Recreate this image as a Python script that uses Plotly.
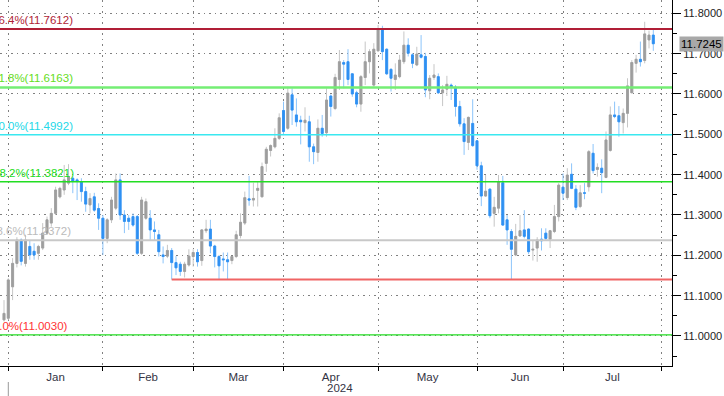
import plotly.graph_objects as go

# ---- data (trading-day index, OHLC) ----
day_index = list(range(152))
opens = [11.040, 11.044, 11.122, 11.180, 11.238, 11.180, 11.222, 11.210, 11.205, 11.218,
         11.255, 11.280, 11.304, 11.345, 11.362, 11.379, 11.391, 11.387, 11.383, 11.358,
         11.325, 11.345, 11.316, 11.292, 11.242, 11.288, 11.317, 11.387, 11.300, 11.292,
         11.296, 11.296, 11.205, 11.292, 11.292, 11.263, 11.251, 11.201, 11.198, 11.212,
         11.182, 11.178, 11.160, 11.176, 11.197, 11.207, 11.187, 11.261, 11.265, 11.223,
         11.197, 11.191, 11.189, 11.187, 11.197, 11.249, 11.280, 11.340, 11.337, 11.361,
         11.345, 11.428, 11.460, 11.469, 11.490, 11.559, 11.515, 11.598, 11.548, 11.535,
         11.529, 11.531, 11.469, 11.455, 11.515, 11.504, 11.595, 11.564, 11.636, 11.678,
         11.680, 11.650, 11.603, 11.575, 11.641, 11.680, 11.622, 11.707, 11.760, 11.711,
         11.661, 11.636, 11.643, 11.680, 11.721, 11.697, 11.672, 11.697, 11.693, 11.608,
         11.641, 11.643, 11.603, 11.612, 11.622, 11.617, 11.569, 11.526, 11.480, 11.527,
         11.484, 11.422, 11.347, 11.364, 11.304, 11.317, 11.380, 11.288, 11.259, 11.201,
         11.248, 11.263, 11.265, 11.213, 11.218, 11.240, 11.255, 11.240, 11.259, 11.296,
         11.369, 11.343, 11.401, 11.364, 11.321, 11.355, 11.370, 11.453, 11.413, 11.416,
         11.393, 11.460, 11.548, 11.546, 11.529, 11.552, 11.603, 11.676, 11.686, 11.683,
         11.734, 11.746]
highs = [11.089, 11.143, 11.193, 11.245, 11.242, 11.251, 11.238, 11.230, 11.226, 11.280,
         11.296, 11.317, 11.370, 11.370, 11.424, 11.426, 11.395, 11.391, 11.391, 11.370,
         11.354, 11.355, 11.329, 11.300, 11.292, 11.345, 11.403, 11.403, 11.312, 11.300,
         11.304, 11.300, 11.345, 11.341, 11.312, 11.284, 11.263, 11.222, 11.226, 11.218,
         11.198, 11.184, 11.184, 11.215, 11.215, 11.215, 11.265, 11.288, 11.288, 11.226,
         11.201, 11.207, 11.207, 11.198, 11.261, 11.304, 11.358, 11.397, 11.380, 11.384,
         11.430, 11.469, 11.475, 11.515, 11.552, 11.581, 11.618, 11.614, 11.589, 11.546,
         11.567, 11.546, 11.477, 11.537, 11.548, 11.614, 11.599, 11.650, 11.709, 11.684,
         11.711, 11.651, 11.608, 11.647, 11.730, 11.711, 11.726, 11.771, 11.769, 11.713,
         11.664, 11.676, 11.697, 11.755, 11.738, 11.701, 11.717, 11.746, 11.702, 11.647,
         11.674, 11.651, 11.622, 11.645, 11.626, 11.622, 11.583, 11.540, 11.544, 11.587,
         11.486, 11.432, 11.399, 11.366, 11.345, 11.399, 11.397, 11.300, 11.265, 11.278,
         11.300, 11.312, 11.267, 11.238, 11.245, 11.267, 11.267, 11.263, 11.325, 11.379,
         11.403, 11.416, 11.428, 11.374, 11.374, 11.379, 11.461, 11.476, 11.428, 11.438,
         11.507, 11.569, 11.581, 11.570, 11.564, 11.639, 11.684, 11.697, 11.730, 11.779,
         11.757, 11.759]
lows = [11.036, 11.040, 11.089, 11.170, 11.175, 11.172, 11.189, 11.189, 11.189, 11.213,
        11.251, 11.271, 11.300, 11.341, 11.350, 11.374, 11.354, 11.337, 11.333, 11.308,
        11.304, 11.308, 11.263, 11.201, 11.230, 11.280, 11.312, 11.288, 11.255, 11.263,
        11.271, 11.201, 11.201, 11.288, 11.238, 11.238, 11.197, 11.180, 11.193, 11.140,
        11.151, 11.149, 11.145, 11.172, 11.172, 11.172, 11.174, 11.255, 11.205, 11.170,
        11.140, 11.160, 11.140, 11.178, 11.193, 11.242, 11.275, 11.323, 11.321, 11.321,
        11.345, 11.407, 11.445, 11.465, 11.486, 11.498, 11.511, 11.523, 11.519, 11.475,
        11.507, 11.432, 11.426, 11.432, 11.494, 11.494, 11.544, 11.560, 11.610, 11.614,
        11.622, 11.593, 11.567, 11.556, 11.622, 11.651, 11.618, 11.705, 11.684, 11.647,
        11.606, 11.610, 11.639, 11.674, 11.693, 11.664, 11.669, 11.688, 11.592, 11.587,
        11.635, 11.600, 11.570, 11.595, 11.585, 11.544, 11.519, 11.449, 11.461, 11.469,
        11.412, 11.322, 11.345, 11.292, 11.271, 11.304, 11.273, 11.226, 11.140, 11.198,
        11.247, 11.242, 11.203, 11.187, 11.184, 11.212, 11.236, 11.218, 11.255, 11.284,
        11.337, 11.337, 11.364, 11.312, 11.317, 11.339, 11.358, 11.403, 11.395, 11.354,
        11.391, 11.457, 11.540, 11.494, 11.502, 11.517, 11.602, 11.653, 11.668, 11.676,
        11.713, 11.707]
closes = [11.056, 11.139, 11.180, 11.238, 11.185, 11.238, 11.201, 11.201, 11.222, 11.255,
          11.288, 11.304, 11.362, 11.366, 11.387, 11.395, 11.383, 11.383, 11.358, 11.327,
          11.341, 11.312, 11.292, 11.242, 11.288, 11.337, 11.387, 11.300, 11.284, 11.284,
          11.275, 11.205, 11.337, 11.333, 11.263, 11.259, 11.209, 11.197, 11.212, 11.182,
          11.169, 11.160, 11.178, 11.198, 11.207, 11.184, 11.263, 11.265, 11.223, 11.197,
          11.174, 11.189, 11.184, 11.197, 11.251, 11.282, 11.343, 11.337, 11.341, 11.366,
          11.420, 11.463, 11.472, 11.490, 11.541, 11.507, 11.602, 11.560, 11.531, 11.531,
          11.535, 11.469, 11.457, 11.515, 11.502, 11.585, 11.569, 11.641, 11.680, 11.674,
          11.636, 11.600, 11.575, 11.643, 11.680, 11.705, 11.711, 11.760, 11.705, 11.650,
          11.639, 11.647, 11.684, 11.721, 11.701, 11.676, 11.699, 11.691, 11.610, 11.639,
          11.647, 11.603, 11.610, 11.624, 11.617, 11.569, 11.526, 11.482, 11.542, 11.472,
          11.422, 11.347, 11.359, 11.298, 11.319, 11.383, 11.275, 11.263, 11.215, 11.247,
          11.261, 11.247, 11.209, 11.215, 11.238, 11.236, 11.242, 11.261, 11.296, 11.374,
          11.354, 11.399, 11.366, 11.319, 11.355, 11.354, 11.457, 11.410, 11.418, 11.405,
          11.486, 11.548, 11.544, 11.531, 11.552, 11.620, 11.678, 11.686, 11.680, 11.749,
          11.746, 11.7245]

# month starts (trading-day index) and month labels
month_starts = [1, 23, 44, 65, 87, 110, 130, 153]
month_names = ["Jan", "Feb", "Mar", "Apr", "May", "Jun", "Jul"]
year_label = "2024"

# Fibonacci levels
fib_values = [11.7612, 11.6163, 11.4992, 11.3821, 11.2372, 11.0030]
fib_pcts = ["76.4%", "61.8%", "50.0%", "38.2%", "23.6%", "100.0%"]
fib_line_colors = ["#b01e36", "#74ee74", "#3ae8f0", "#22dd22", "#c8c8c8", "#22dd22"]
fib_text_colors = ["#b01e36", "#66dd22", "#22d8e8", "#22dd22", "#bbbbbb", "#ff3333"]
fib_widths = [2, 2.5, 1.5, 1.5, 2, 1.2]
fib_label_end_px = [75, 75, 75, 76, 73, 70]

support_value = 11.14
support_start = 39
last_price = 11.7245

y_ticks = [11.0, 11.1, 11.2, 11.3, 11.4, 11.5, 11.6, 11.7, 11.8]
y_ticktext = ["%.4f" % v for v in y_ticks]

# ---- geometry ----
X_MIN, X_MAX = -0.93, 155.35
Y_MIN, Y_MAX = 10.9256, 11.833
PX_PER_UNIT = 672 / (X_MAX - X_MIN)

UP_BODY, UP_WICK = "#9e9e9e", "#c6c6c6"
DN_BODY, DN_WICK = "#2f90f2", "#8cc4fa"

fig = go.Figure()
# wicks (light)
fig.add_trace(go.Candlestick(
    x=day_index, open=opens, high=highs, low=lows, close=closes,
    increasing=dict(line=dict(color=UP_WICK, width=1), fillcolor=UP_WICK),
    decreasing=dict(line=dict(color=DN_WICK, width=1), fillcolor=DN_WICK),
    whiskerwidth=0, hoverinfo="skip", showlegend=False,
))
# bodies (solid), open/close range only
body_hi = [max(o, c) for o, c in zip(opens, closes)]
body_lo = [min(o, c) for o, c in zip(opens, closes)]
fig.add_trace(go.Candlestick(
    x=day_index, open=opens, high=body_hi, low=body_lo, close=closes,
    increasing=dict(line=dict(color=UP_BODY, width=0.8), fillcolor=UP_BODY),
    decreasing=dict(line=dict(color=DN_BODY, width=0.8), fillcolor=DN_BODY),
    whiskerwidth=0, hoverinfo="skip", showlegend=False,
))

# y-axis arrow markers
fig.add_trace(go.Scatter(
    x=[X_MAX + 4 / PX_PER_UNIT] * len(y_ticks), y=y_ticks, mode="markers",
    marker=dict(symbol="triangle-right", size=7, color="black"),
    cliponaxis=False, hoverinfo="skip", showlegend=False,
))
# price tag pointer
fig.add_trace(go.Scatter(
    x=[X_MAX + 6 / PX_PER_UNIT], y=[last_price], mode="markers",
    marker=dict(symbol="triangle-left", size=12, color="#a8a8a8"),
    cliponaxis=False, hoverinfo="skip", showlegend=False,
))

shapes = []
annotations = []
for v, p, lc, tc, w, ex in zip(fib_values, fib_pcts, fib_line_colors, fib_text_colors,
                               fib_widths, fib_label_end_px):
    shapes.append(dict(type="line", xref="paper", x0=0, x1=1, yref="y", y0=v, y1=v,
                       line=dict(color=lc, width=w), layer="above"))
    annotations.append(dict(xref="paper", x=ex / 672, xanchor="right", yref="y", y=v,
                            yanchor="bottom", yshift=1, text="%s(%.4f)" % (p, v), showarrow=False,
                            font=dict(family="Liberation Sans", size=11.5, color=tc)))
shapes.append(dict(type="line", xref="x", x0=support_start, x1=X_MAX, yref="y",
                   y0=support_value, y1=support_value, line=dict(color="#f06464", width=2), layer="above"))
# year separator mark
shapes.append(dict(type="line", xref="x", x0=month_starts[0], x1=month_starts[0], yref="paper",
                   y0=-16 / 366, y1=-30 / 366, line=dict(color="#999999", width=1)))

annotations.append(dict(xref="paper", x=1, xanchor="left", xshift=7, yref="y", y=last_price,
                        text=f"{last_price:.4f}", showarrow=False, bgcolor="#a8a8a8", borderpad=1,
                        font=dict(family="Liberation Sans", size=11.5, color="black")))
annotations.append(dict(xref="x", x=(month_starts[3] + month_starts[4]) / 2 + 2.2, yref="paper",
                        y=-22 / 366, yanchor="middle", text=year_label, showarrow=False,
                        font=dict(family="Liberation Sans", size=11.5, color="#333344")))

mid_months = [(a + b) / 2 for a, b in zip(month_starts[:-1], month_starts[1:])]

fig.update_layout(
    width=724, height=396, margin=dict(l=0, r=52, t=0, b=30),
    paper_bgcolor="white", plot_bgcolor="white", showlegend=False,
    boxgap=0.35,
    shapes=shapes, annotations=annotations,
    xaxis=dict(range=[X_MIN, X_MAX], rangeslider=dict(visible=False), showline=True,
               linecolor="black", linewidth=1, zeroline=False, showgrid=False,
               tickmode="array", tickvals=mid_months, ticktext=month_names, ticks="",
               tickfont=dict(family="Liberation Sans", size=11.5, color="#333344"),
               minor=dict(tickmode="array", tickvals=month_starts, ticks="outside", ticklen=4,
                          tickcolor="black", showgrid=True, gridcolor="#808080",
                          griddash="1.5px,4px", gridwidth=1)),
    yaxis=dict(range=[Y_MIN, Y_MAX], side="right", showline=True, linecolor="black",
               linewidth=1, zeroline=False, tickmode="array", tickvals=y_ticks,
               ticktext=y_ticktext, ticks="outside", ticklen=8, tickcolor="black",
               showgrid=True, gridcolor="#808080", griddash="1.5px,4px", gridwidth=1,
               tickfont=dict(family="Liberation Sans", size=11, color="#222222"),
               minor=dict(tickmode="array", tickvals=[round(10.95 + 0.1 * i, 2) for i in range(10)],
                          ticks="outside", ticklen=4, tickcolor="black", showgrid=False)),
)

fig.write_html("out.html")
